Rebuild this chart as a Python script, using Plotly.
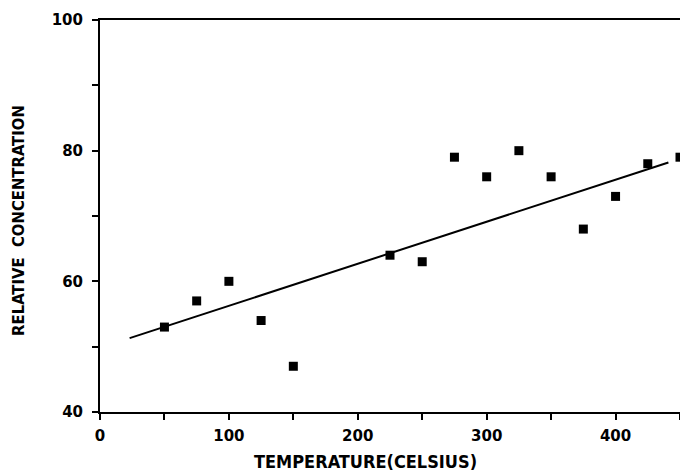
import plotly.graph_objects as go

temperature = [50, 75, 100, 125, 150, 225, 250, 275, 300, 325, 350, 375, 400, 425, 450]
concentration = [53, 57, 60, 54, 47, 64, 63, 79, 76, 80, 76, 68, 73, 78, 79]
fit_x = [23, 441]
fit_y = [51.3, 78.2]

fig = go.Figure()
fig.add_trace(go.Scatter(x=fit_x, y=fit_y, mode="lines",
                         line=dict(color="black", width=2), showlegend=False))
fig.add_trace(go.Scatter(x=temperature, y=concentration, mode="markers",
                         marker=dict(symbol="square", size=9, color="black"),
                         showlegend=False))

tickfnt = dict(size=15, family="DejaVu Sans", weight="bold", color="black")
titlefnt = dict(size=18, family="DejaVu Sans Condensed, DejaVu Sans", weight="bold", color="black")

fig.update_layout(
    width=680, height=476,
    margin=dict(l=100, r=0, t=20, b=64),
    paper_bgcolor="white", plot_bgcolor="white",
    font=dict(family="DejaVu Sans", color="black"),
    annotations=[
        dict(text="TEMPERATURE(CELSIUS)", xref="paper", yref="paper",
             x=0.4586, y=-0.125, xanchor="center", yanchor="middle",
             showarrow=False, font=titlefnt),
        dict(text="RELATIVE  CONCENTRATION", xref="paper", yref="paper",
             x=-0.1397, y=0.49, xanchor="center", yanchor="middle",
             textangle=-90, showarrow=False, font=dict(titlefnt, size=16.5)),
    ],
)
fig.update_xaxes(
    range=[0, 450], dtick=100, tick0=0,
    showgrid=False, zeroline=False,
    showline=True, linecolor="black", linewidth=2, mirror=True,
    ticks="outside", ticklen=6, tickwidth=2, tickcolor="black",
    minor=dict(dtick=50, tick0=0, ticks="outside", ticklen=6, tickwidth=2, tickcolor="black", showgrid=False),
    tickfont=tickfnt, ticklabelstandoff=3,
    automargin=False,
)
fig.update_yaxes(
    range=[40, 100], dtick=20, tick0=40,
    showgrid=False, zeroline=False,
    showline=True, linecolor="black", linewidth=2, mirror=True,
    ticks="outside", ticklen=6, tickwidth=2, tickcolor="black",
    minor=dict(dtick=10, tick0=40, ticks="outside", ticklen=6, tickwidth=2, tickcolor="black", showgrid=False),
    tickfont=tickfnt, ticklabelstandoff=6,
    automargin=False,
)
fig.write_html("out.html", config={"displayModeBar": False},
               post_script="document.body.style.margin='0';document.body.style.overflow='hidden';")
